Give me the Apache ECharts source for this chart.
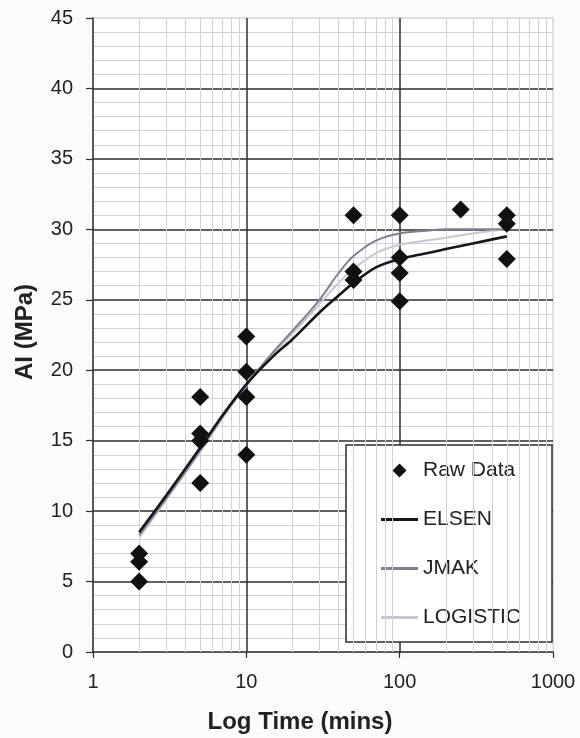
<!DOCTYPE html>
<html>
<head>
<meta charset="utf-8">
<script src="https://cdn.jsdelivr.net/npm/echarts@6/dist/echarts.min.js"></script>
<style>
html,body{margin:0;padding:0;background:#fbfbfb;}
#chart{width:580px;height:738px;}
</style>
</head>
<body>
<div id="chart"></div>
<script>
// Raw data points [time (mins), AI (MPa)]
const rawTime = [2, 2, 2, 5, 5, 5, 5, 10, 10, 10, 10, 50, 50, 50, 100, 100, 100, 100, 250, 500, 500, 500];
const rawAI   = [7.0, 6.4, 5.0, 18.1, 15.5, 15.0, 12.0, 22.4, 19.9, 18.1, 14.0, 31.0, 27.0, 26.4, 31.0, 28.0, 26.9, 24.9, 31.4, 31.0, 30.4, 27.9];

// Model curves
const curveTime = [2, 3, 4, 5, 7, 10, 15, 20, 30, 40, 50, 70, 100, 150, 200, 300, 500];
const elsen     = [8.5, 11.1, 13.0, 14.5, 16.8, 19.0, 21.0, 22.2, 24.1, 25.3, 26.2, 27.3, 27.9, 28.3, 28.6, 29.0, 29.5];
const jmak      = [8.3, 10.9, 12.8, 14.3, 16.7, 19.0, 21.3, 22.8, 25.0, 26.9, 28.1, 29.2, 29.7, 29.9, 30.0, 30.0, 30.0];
const logistic  = [8.1, 10.8, 12.7, 14.2, 16.6, 18.9, 21.2, 22.6, 24.7, 26.2, 27.2, 28.3, 28.9, 29.2, 29.4, 29.7, 30.0];

// Axis ticks
const xMinorTicks = [2,3,4,5,6,7,8,9,20,30,40,50,60,70,80,90,200,300,400,500,600,700,800,900];
const yMin = 0, yMax = 45, yStep = 5;

const FONT = '"Liberation Sans", Arial, sans-serif';
const TEXT = '#222';
const MAJOR = '#2e2e2e';
const MINOR = '#cfd1dc';
const EDGE = '#bfc1cc';

const zip = (xs, ys) => xs.map((x, i) => [x, ys[i]]);

const chart = echarts.init(document.getElementById('chart'), null, {renderer: 'canvas'});

const lineIcon = 'path://M0,0H40V3H0Z';
const diamondIcon = 'path://M7,0L14,7L7,14L0,7Z';

chart.setOption({
  backgroundColor: '#fbfbfb',
  animation: false,
  textStyle: {fontFamily: FONT},
  grid: {left: 93, right: 27, top: 18, bottom: 86, show: true, backgroundColor: '#ffffff', borderColor: EDGE, borderWidth: 1},
  xAxis: {
    type: 'log', logBase: 10, min: 1, max: 1000, z: 2,
    axisLine: {show: true, onZero: false, lineStyle: {color: MAJOR, width: 1.5}},
    axisTick: {show: true, inside: false, length: 6, lineStyle: {color: MAJOR, width: 1.2}},
    axisLabel: {fontSize: 20, color: TEXT, margin: 20, fontFamily: FONT, formatter: v => String(v)},
    splitLine: {show: true, showMinLine: false, showMaxLine: false, lineStyle: {color: MAJOR, width: 1.5}},
    minorTick: {show: false},
    minorSplitLine: {show: false}
  },
  yAxis: {
    type: 'value', min: yMin, max: yMax, interval: yStep, z: 2,
    axisLine: {show: true, lineStyle: {color: MAJOR, width: 1.5}},
    axisTick: {show: true, inside: false, length: 7, lineStyle: {color: MAJOR, width: 1.2}},
    axisLabel: {fontSize: 20, color: TEXT, margin: 20, fontFamily: FONT},
    splitLine: {show: true, showMinLine: false, showMaxLine: false, lineStyle: {color: MAJOR, width: 1.5}},
    minorTick: {show: false, splitNumber: 5},
    minorSplitLine: {show: true, lineStyle: {color: MINOR, width: 1}}
  },
  legend: {
    orient: 'vertical',
    left: 346, top: 445,
    padding: [15, 31, 14, 35],
    itemGap: 28,
    itemWidth: 37, itemHeight: 14,
    symbolKeepAspect: true,
    backgroundColor: '#ffffff',
    borderColor: MAJOR, borderWidth: 1.5, borderRadius: 0,
    textStyle: {fontSize: 21, color: TEXT, fontFamily: FONT, lineHeight: 21},
    data: [
      {name: 'Raw Data', icon: diamondIcon},
      {name: 'ELSEN', icon: lineIcon},
      {name: 'JMAK', icon: lineIcon},
      {name: 'LOGISTIC', icon: lineIcon}
    ]
  },
  graphic: [
    {type: 'text', position: [25, 332], rotation: Math.PI / 2, z: 10,
     style: {text: 'AI (MPa)', fill: TEXT, font: 'bold 24px ' + FONT, textAlign: 'center', textVerticalAlign: 'middle'}},
    {type: 'text', position: [300, 722], z: 10,
     style: {text: 'Log Time (mins)', fill: TEXT, font: 'bold 24px ' + FONT, textAlign: 'center', textVerticalAlign: 'middle'}}
  ],
  series: [
    {
      name: 'minor-x', type: 'line', data: [], z: 1, silent: true,
      markLine: {
        silent: true, symbol: 'none', animation: false,
        label: {show: false},
        lineStyle: {color: MINOR, width: 1, type: 'solid'},
        data: xMinorTicks.map(v => ({xAxis: v}))
      }
    },
    {
      name: 'LOGISTIC', type: 'line', z: 4, symbol: 'none', smooth: 0.35,
      lineStyle: {color: '#c6c7d2', width: 2},
      itemStyle: {color: '#c6c7d2'},
      data: zip(curveTime, logistic)
    },
    {
      name: 'JMAK', type: 'line', z: 5, symbol: 'none', smooth: 0.35,
      lineStyle: {color: '#80818f', width: 2},
      itemStyle: {color: '#80818f'},
      data: zip(curveTime, jmak)
    },
    {
      name: 'ELSEN', type: 'line', z: 6, symbol: 'none', smooth: 0.3,
      lineStyle: {color: '#161616', width: 2.6},
      itemStyle: {color: '#161616'},
      data: zip(curveTime, elsen)
    },
    {
      name: 'Raw Data', type: 'scatter', z: 7, symbol: 'diamond', symbolSize: [18, 18],
      itemStyle: {color: '#111111', opacity: 1},
      data: zip(rawTime, rawAI)
    }
  ]
});
</script>
</body>
</html>
